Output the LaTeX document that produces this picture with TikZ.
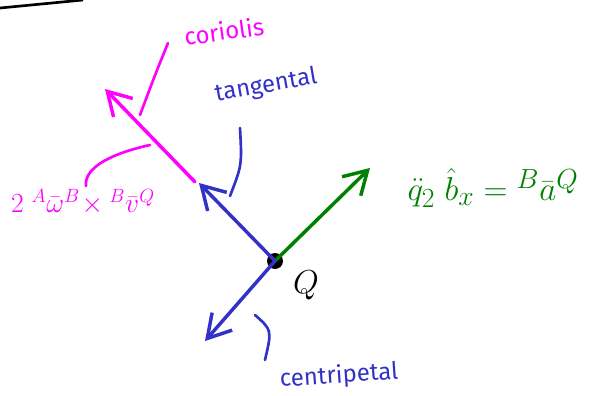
\documentclass[tikz,border=0pt]{standalone}
\usepackage{fontspec}
\setmainfont{Fira Sans}
\usetikzlibrary{arrows.meta}
\definecolor{hmag}{RGB}{255,0,255}
\definecolor{hblue}{RGB}{50,50,200}
\definecolor{hgreen}{RGB}{0,128,0}
\tikzset{
  vec/.style={line width=2.6pt, line cap=round, -{Straight Barb[length=17pt,width=20pt,line width=2.6pt]}},
  pointer/.style={line width=2pt, line cap=round},
  handlabel/.style={inner sep=0pt, font=\fontsize{18}{21}\selectfont},
}
\begin{document}
\begin{tikzpicture}[x=0.75pt,y=-0.75pt]
\useasboundingbox (0,0) rectangle (593,396);
% top-left stroke
\coordinate (s1) at (0,8);
\coordinate (s2) at (83,0);
\draw[line width=2pt] (s1) -- (s2);
% point Q
\node[circle, fill=black, inner sep=0pt, minimum size=12pt] (Q) at (275,261) {};
\node[font=\fontsize{26}{30}\selectfont, inner sep=0pt] (Ql) at (306,285) {$Q$};
% arrow tips
\coordinate (tg) at (199,183);
\coordinate (cp) at (205,341);
\coordinate (gr) at (370,168);
\coordinate (m1) at (195,182);
\coordinate (m2) at (105,89);
\draw[vec, hgreen] (Q.center) -- (gr);
\draw[vec, hblue] (Q.center) -- (tg);
\draw[vec, hblue] (Q.center) -- (cp);
\draw[vec, hmag] (m1) -- (m2);
% labels
\node[handlabel, text=hmag, rotate=8] (cor) at (224,31) {coriolis};
\node[handlabel, text=hblue, rotate=10] (tan) at (266,86) {tangental};
\node[handlabel, text=hblue, rotate=4] (cen) at (339,376) {centripetal};
\node[inner sep=0pt, text=hmag, font=\fontsize{21}{24}\selectfont] (form) at (83,202)
  {$2\;{}^{A}\bar{\omega}^{B}\!\times{}^{B}\bar{v}^{Q}$};
\node[inner sep=0pt, text=hgreen, font=\fontsize{30}{34}\selectfont] (eq) at (493,188)
  {$\ddot{q}_{2}\;\hat{b}_{x} = {}^{B}\bar{a}^{Q}$};
% pointer strokes
\coordinate (pc1) at (168,43);
\coordinate (pc2) at (140,115);
\draw[pointer, hmag] (pc1) .. controls (155,75) .. (pc2);
\coordinate (pf1) at (150,145);
\coordinate (pf2) at (86,186);
\draw[pointer, hmag] (pf1) .. controls (105,155) and (84,170) .. (pf2);
\coordinate (pt1) at (240,128);
\coordinate (pt2) at (230,196);
\draw[pointer, hblue] (pt1) .. controls (242,165) .. (pt2);
\coordinate (pp1) at (255,315);
\coordinate (pp2) at (265,360);
\draw[pointer, hblue] (pp1) .. controls (272,330) .. (pp2);
\end{tikzpicture}
\end{document}
